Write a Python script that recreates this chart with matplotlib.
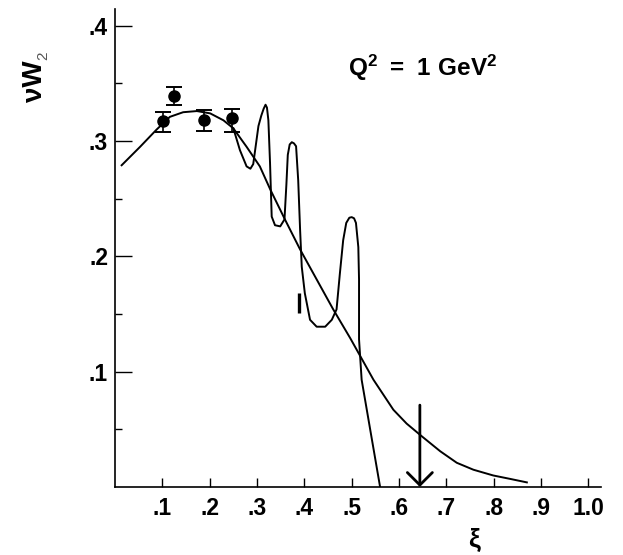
import numpy as np
import matplotlib
matplotlib.use("Agg")
import matplotlib.pyplot as plt

plt.rcParams['font.family'] = ['Liberation Sans', 'DejaVu Sans']
plt.rcParams['mathtext.fontset'] = 'custom'
plt.rcParams['mathtext.rm'] = 'Liberation Sans:bold'
plt.rcParams['mathtext.bf'] = 'Liberation Sans:bold'

# smooth scaling curve
smooth_x = [0.014, 0.053, 0.088, 0.116, 0.144, 0.173, 0.201, 0.229, 0.250, 0.278,
            0.306, 0.328, 0.359, 0.391, 0.426, 0.461, 0.497, 0.546, 0.567, 0.588,
            0.616, 0.648, 0.687, 0.722, 0.757, 0.799, 0.835, 0.870]
smooth_y = [0.279, 0.295, 0.310, 0.321, 0.325, 0.326, 0.324, 0.318, 0.311, 0.295,
            0.278, 0.258, 0.232, 0.206, 0.180, 0.154, 0.129, 0.093, 0.080, 0.067,
            0.055, 0.044, 0.031, 0.021, 0.015, 0.010, 0.007, 0.004]

# resonance curve
res_x = [0.250, 0.264, 0.278, 0.286, 0.292, 0.298, 0.303, 0.309, 0.314, 0.318, 0.321,
         0.324, 0.3275, 0.331, 0.338, 0.349, 0.358, 0.362, 0.365, 0.369, 0.3735, 0.378,
         0.3825, 0.387, 0.391, 0.3945, 0.401, 0.412, 0.426, 0.444, 0.458, 0.468, 0.475,
         0.482, 0.4885, 0.495, 0.500, 0.505, 0.509, 0.514, 0.5155, 0.5155, 0.521, 0.539,
         0.560]
res_y = [0.311, 0.292, 0.278, 0.276, 0.280, 0.298, 0.313, 0.322, 0.328, 0.3315, 0.329,
         0.318, 0.281, 0.2345, 0.227, 0.226, 0.232, 0.262, 0.288, 0.297, 0.299, 0.298,
         0.2955, 0.266, 0.223, 0.191, 0.168, 0.145, 0.139, 0.139, 0.145, 0.154, 0.185,
         0.214, 0.229, 0.2335, 0.234, 0.233, 0.229, 0.208, 0.180, 0.128, 0.093, 0.050,
         0.000]

# data points with asymmetric errors
pt_x = [0.102, 0.125, 0.187, 0.247]
pt_y = [0.317, 0.339, 0.318, 0.320]
pt_lo = [0.308, 0.331, 0.309, 0.308]
pt_hi = [0.325, 0.347, 0.3265, 0.328]

# extra single error bar
bar_x = 0.389
bar_lo, bar_hi = 0.151, 0.168

arrow_x = 0.644
arrow_top = 0.071

xticks = [0.1, 0.2, 0.3, 0.4, 0.5, 0.6, 0.7, 0.8, 0.9, 1.0]
xlabels = ['.1', '.2', '.3', '.4', '.5', '.6', '.7', '.8', '.9', '1.0']
yticks = [0.1, 0.2, 0.3, 0.4]
ylabels = ['.1', '.2', '.3', '.4']
yminor = [0.05, 0.15, 0.25, 0.35]

fig = plt.figure(figsize=(6.23, 5.55), dpi=100)
ax = fig.add_axes([115 / 623, 68 / 555, 485.7 / 623, 478 / 555])
ax.set_xlim(0, 1.026)
ax.set_ylim(0, 0.4145)

ax.plot(smooth_x, smooth_y, color='black', lw=1.4)
ax.plot(res_x, res_y, color='black', lw=1.4)

yerr = [np.array(pt_y) - np.array(pt_lo), np.array(pt_hi) - np.array(pt_y)]
ax.errorbar(pt_x, pt_y, yerr=yerr, fmt='o', color='black', ms=8,
            capsize=5.5, capthick=1.4, elinewidth=1.2)
ax.vlines(bar_x, bar_lo, bar_hi, color='black', lw=2.4)

ax.annotate('', xy=(arrow_x, 0), xytext=(arrow_x, arrow_top),
            arrowprops=dict(arrowstyle='->,head_length=0.45,head_width=0.45',
                            lw=2, color='black', mutation_scale=20,
                            shrinkA=0, shrinkB=0))

for s in ['top', 'right']:
    ax.spines[s].set_visible(False)
for s in ['left', 'bottom']:
    ax.spines[s].set_linewidth(1.2)

ax.set_xticks(xticks)
ax.set_xticklabels(xlabels, fontsize=16.5, fontweight='bold')
ax.set_yticks(yticks)
ax.set_yticklabels(ylabels, fontsize=16.5, fontweight='bold')
ax.set_yticks(yminor, minor=True)
ax.tick_params(axis='x', direction='in', length=6.5, width=1, pad=7)
ax.tick_params(axis='y', which='major', direction='in', length=12.5, width=1, pad=5)
ax.tick_params(axis='y', which='minor', direction='in', length=5, width=1)

ax.text(0.492, 0.3566, r'$\mathbf{Q^2\ =\ 1\ GeV^2}$', fontsize=17.5,
        ha='left', va='baseline')

fig.text(35 / 623, 1 - 81 / 555, 'νW', rotation=90, fontsize=20,
         fontweight='bold', ha='center', va='center')
fig.text(43 / 623, 1 - 56 / 555, '2', rotation=90, fontsize=11,
         color='#555555', ha='center', va='center')
fig.text(474 / 623, 1 - 540 / 555, 'ξ', fontsize=19, fontweight='bold',
         ha='center', va='center')

fig.savefig('out.png', dpi=100)
